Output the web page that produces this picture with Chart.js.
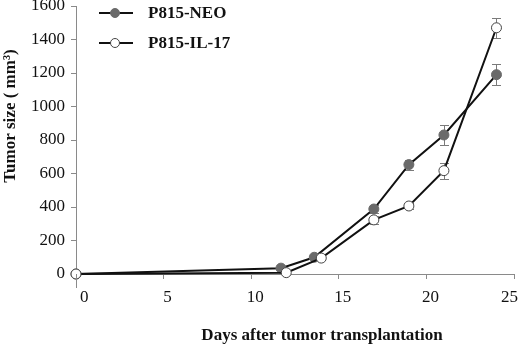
<!DOCTYPE html>
<html>
<head>
<meta charset="utf-8">
<script src="https://cdn.jsdelivr.net/npm/chart.js@4/dist/chart.umd.min.js"></script>
<style>
  html, body { margin: 0; padding: 0; background: #fff; }
  #wrap { width: 520px; height: 354px; position: relative; }
</style>
</head>
<body>
<div id="wrap"><canvas id="c" width="520" height="354"></canvas></div>
<script>
// ---- data ----
const seriesNames = ["P815-NEO", "P815-IL-17"];
const neoDays   = [0, 11.7, 13.6, 17, 19, 21, 24];
const neoSize   = [0, 35, 100, 388, 653, 830, 1190];
const neoErr    = [0, 0, 0, 25, 30, 62, 62];
const il17Days  = [0, 12, 14, 17, 19, 21, 24];
const il17Size  = [0, 8, 95, 323, 406, 617, 1470];
const il17Err   = [0, 0, 0, 25, 20, 48, 60];
const xTickValues = [0, 5, 10, 15, 20, 25];
const yTickValues = [0, 200, 400, 600, 800, 1000, 1200, 1400, 1600];
const xTitle = "Days after tumor transplantation";
const yTitle = "Tumor size ( mm\u00B3)";

const FONT = "'Liberation Serif', 'Times New Roman', Times, serif";

function pts(xs, ys) { return xs.map((x, i) => ({ x: x, y: ys[i] })); }

const errorBars = {
  id: 'errorBars',
  beforeDatasetsDraw(chart) {
    const ctx = chart.ctx, xs = chart.scales.x, ys = chart.scales.y;
    const sets = [[neoDays, neoSize, neoErr], [il17Days, il17Size, il17Err]];
    ctx.save();
    ctx.strokeStyle = '#7a7a7a';
    ctx.lineWidth = 1;
    sets.forEach(([d, v, e]) => {
      d.forEach((day, i) => {
        if (!e[i]) return;
        const px = Math.round(xs.getPixelForValue(day)) + 0.5;
        const top = Math.round(ys.getPixelForValue(v[i] + e[i])) + 0.5;
        const bot = Math.round(ys.getPixelForValue(v[i] - e[i])) + 0.5;
        ctx.beginPath();
        ctx.moveTo(px, top); ctx.lineTo(px, bot);
        ctx.moveTo(px - 4.5, top); ctx.lineTo(px + 4.5, top);
        ctx.moveTo(px - 4.5, bot); ctx.lineTo(px + 4.5, bot);
        ctx.stroke();
      });
    });
    ctx.restore();
  }
};

const decor = {
  id: 'decor',
  afterDraw(chart) {
    const ctx = chart.ctx, area = chart.chartArea;
    ctx.save();
    // y axis line extends a little below zero
    ctx.strokeStyle = '#8a8a8a';
    ctx.lineWidth = 1;
    ctx.beginPath();
    ctx.moveTo(area.left + 0.5, area.bottom);
    ctx.lineTo(area.left + 0.5, area.bottom + 14);
    ctx.stroke();
    // legend inside plot
    const rows = [13, 43];
    chart.data.datasets.forEach((ds, i) => {
      const y = rows[i];
      ctx.strokeStyle = '#111';
      ctx.lineWidth = 2;
      ctx.beginPath();
      ctx.moveTo(99, y); ctx.lineTo(133, y);
      ctx.stroke();
      ctx.beginPath();
      ctx.arc(115, y, 4.5, 0, Math.PI * 2);
      ctx.fillStyle = ds.pointBackgroundColor;
      ctx.fill();
      ctx.lineWidth = 1;
      ctx.strokeStyle = ds.pointBorderColor;
      ctx.stroke();
      ctx.fillStyle = '#111';
      ctx.font = "bold 17px " + FONT;
      ctx.textAlign = 'left';
      ctx.textBaseline = 'middle';
      ctx.fillText(ds.label, 148, y + 1);
    });
    // axis titles
    ctx.fillStyle = '#111';
    ctx.font = "bold 17px " + FONT;
    ctx.textAlign = 'center';
    ctx.textBaseline = 'middle';
    ctx.fillText(xTitle, 322, 336);
    ctx.translate(11, 116);
    ctx.rotate(-Math.PI / 2);
    ctx.fillText(yTitle, 0, 0);
    ctx.restore();
  }
};

new Chart(document.getElementById('c'), {
  type: 'scatter',
  data: {
    datasets: [
      {
        label: seriesNames[0],
        data: pts(neoDays, neoSize),
        order: 1,
        showLine: true,
        clip: false,
        borderColor: '#111',
        borderWidth: 2,
        pointRadius: 5,
        pointBackgroundColor: '#6a6a6a',
        pointBorderColor: '#6a6a6a',
        pointBorderWidth: 1
      },
      {
        label: seriesNames[1],
        data: pts(il17Days, il17Size),
        order: 0,
        showLine: true,
        clip: false,
        borderColor: '#111',
        borderWidth: 2,
        pointRadius: 5,
        pointBackgroundColor: '#ffffff',
        pointBorderColor: '#444',
        pointBorderWidth: 1
      }
    ]
  },
  options: {
    responsive: false,
    animation: false,
    devicePixelRatio: 1,
    layout: { padding: { left: 0, right: 5, top: 4, bottom: 0 } },
    plugins: { legend: { display: false }, tooltip: { enabled: false } },
    scales: {
      x: {
        type: 'linear',
        min: 0, max: 25,
        afterBuildTicks: (axis) => { axis.ticks = xTickValues.map(v => ({ value: v })); },
        afterFit: (s) => { s.height = 80; s.paddingLeft = 0; s.paddingRight = 0; },
        border: { display: true, color: '#8a8a8a', width: 1 },
        grid: { drawOnChartArea: false, drawTicks: true, tickLength: 5, color: '#8a8a8a' },
        ticks: { color: '#111', font: { family: FONT, size: 17 }, padding: 8, labelOffset: 4, align: 'inner', maxRotation: 0,
                 callback: (v) => String(v) }
      },
      y: {
        type: 'linear',
        min: 0, max: 1600,
        afterBuildTicks: (axis) => { axis.ticks = yTickValues.map(v => ({ value: v })); },
        afterFit: (s) => { s.width = 76; s.paddingTop = 0; s.paddingBottom = 0; },
        border: { display: true, color: '#8a8a8a', width: 1 },
        grid: { drawOnChartArea: false, drawTicks: true, tickLength: 5, color: '#8a8a8a' },
        ticks: { color: '#111', font: { family: FONT, size: 17 }, padding: 6, callback: (v) => String(v) }
      }
    }
  },
  plugins: [errorBars, decor]
});
</script>
</body>
</html>
